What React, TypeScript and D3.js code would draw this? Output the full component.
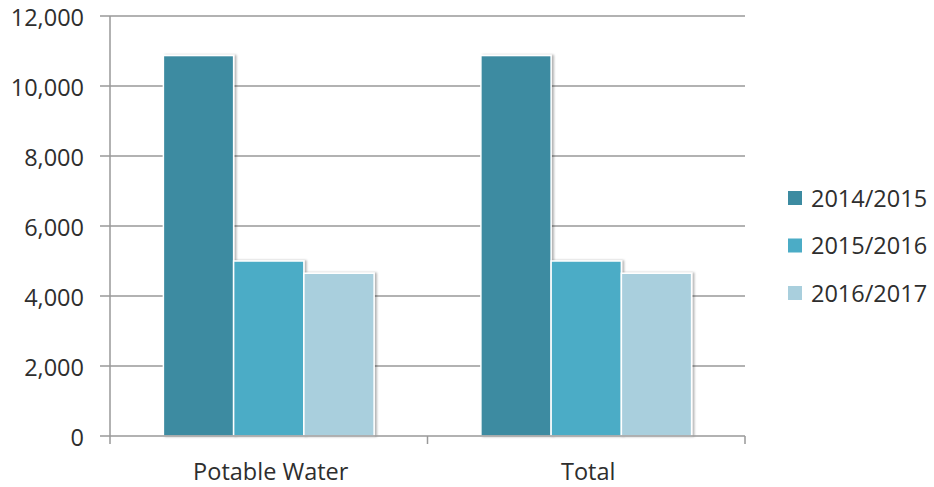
import { useEffect, useRef } from "react";
import { select, scaleBand, scaleLinear, format } from "d3";

const categories = ["Potable Water", "Total"];
const series = ["2014/2015", "2015/2016", "2016/2017"];
const colors = ["#3C8BA1", "#4BACC6", "#A9CFDD"];
const values2014 = [10870, 10870];
const values2015 = [5000, 5000];
const values2016 = [4650, 4650];
const yTicks = [0, 2000, 4000, 6000, 8000, 10000, 12000];

const drawChart = (ref: SVGSVGElement) => {
  const svg = select(ref);
  svg.selectAll("*").remove();

  const m = { l: 110, r: 745, t: 16, b: 436 };
  const font = "'Open Sans', 'DejaVu Sans', sans-serif";
  const textColor = "#2e2e2e";
  const rows = [values2014, values2015, values2016];

  const x = scaleBand<string>().domain(categories).range([m.l, m.r]).padding(0);
  const xi = scaleBand<string>()
    .domain(series)
    .range([0, x.bandwidth()])
    .paddingInner(0)
    .paddingOuter(0.76);
  const y = scaleLinear().domain([0, 12000]).range([m.b, m.t]);

  const defs = svg.append("defs");
  const f = defs
    .append("filter")
    .attr("id", "shadow")
    .attr("x", "-10%")
    .attr("y", "-10%")
    .attr("width", "130%")
    .attr("height", "120%");
  f.append("feDropShadow")
    .attr("dx", 2)
    .attr("dy", 0)
    .attr("stdDeviation", 1.2)
    .attr("flood-color", "#000")
    .attr("flood-opacity", 0.3);

  // gridlines + y ticks
  svg
    .append("g")
    .selectAll("line")
    .data(yTicks.filter((d) => d > 0))
    .join("line")
    .attr("x1", m.l)
    .attr("x2", m.r)
    .attr("y1", (d) => y(d))
    .attr("y2", (d) => y(d))
    .attr("stroke", "#999")
    .attr("stroke-width", 1.5);

  svg
    .append("g")
    .selectAll("line")
    .data(yTicks)
    .join("line")
    .attr("x1", m.l - 10)
    .attr("x2", m.l)
    .attr("y1", (d) => y(d))
    .attr("y2", (d) => y(d))
    .attr("stroke", "#999")
    .attr("stroke-width", 1.5);

  svg
    .append("g")
    .selectAll("text")
    .data(yTicks)
    .join("text")
    .attr("x", 84)
    .attr("y", (d) => y(d) + 10)
    .attr("text-anchor", "end")
    .attr("font-family", font)
    .attr("font-size", 23.5)
    .attr("fill", textColor)
    .text((d) => format(",")(d));

  // bars
  const g = svg
    .append("g")
    .selectAll("g")
    .data(categories)
    .join("g")
    .attr("transform", (d) => `translate(${x(d)},0)`);

  g.selectAll("rect")
    .data((_, ci) => series.map((s, si) => ({ s, si, v: rows[si][ci] })))
    .join("rect")
    .attr("x", (d) => xi(d.s)!)
    .attr("y", (d) => y(d.v))
    .attr("width", xi.bandwidth())
    .attr("height", (d) => y(0) - y(d.v))
    .attr("fill", (d) => colors[d.si])
    .attr("stroke", "#fff")
    .attr("stroke-width", 1.5)
    .attr("filter", "url(#shadow)");

  // axes lines
  svg
    .append("line")
    .attr("x1", m.l)
    .attr("x2", m.l)
    .attr("y1", m.t)
    .attr("y2", m.b + 8)
    .attr("stroke", "#999")
    .attr("stroke-width", 1.5);
  svg
    .append("line")
    .attr("x1", m.l)
    .attr("x2", m.r)
    .attr("y1", m.b)
    .attr("y2", m.b)
    .attr("stroke", "#999")
    .attr("stroke-width", 1.5);
  svg
    .append("g")
    .selectAll("line")
    .data(categories.slice(1).concat(["end"]))
    .join("line")
    .attr("x1", (d) => (d === "end" ? m.r : x(d)!))
    .attr("x2", (d) => (d === "end" ? m.r : x(d)!))
    .attr("y1", m.b)
    .attr("y2", m.b + 8)
    .attr("stroke", "#999")
    .attr("stroke-width", 1.5);

  svg
    .append("g")
    .selectAll("text")
    .data(categories)
    .join("text")
    .attr("x", (d) => x(d)! + x.bandwidth() / 2 + 2)
    .attr("y", 480)
    .attr("text-anchor", "middle")
    .attr("font-family", font)
    .attr("font-size", 23.5)
    .attr("fill", textColor)
    .text((d) => d);

  // legend
  const lg = svg
    .append("g")
    .selectAll("g")
    .data(series)
    .join("g")
    .attr("transform", (_, i) => `translate(788,${198 + i * 47.5})`);
  lg.append("rect")
    .attr("x", 0)
    .attr("y", -7)
    .attr("width", 14)
    .attr("height", 14)
    .attr("fill", (_, i) => colors[i]);
  lg.append("text")
    .attr("x", 23)
    .attr("y", 8.5)
    .attr("font-family", font)
    .attr("font-size", 23.5)
    .attr("fill", textColor)
    .text((d) => d);
};

export default function App() {
  const ref = useRef<SVGSVGElement>(null);
  useEffect(() => {
    if (ref.current) drawChart(ref.current);
  }, []);
  return (
    <svg
      ref={ref}
      width={934}
      height={487}
      style={{ position: "absolute", left: 0, top: 0, background: "#fff" }}
    />
  );
}
